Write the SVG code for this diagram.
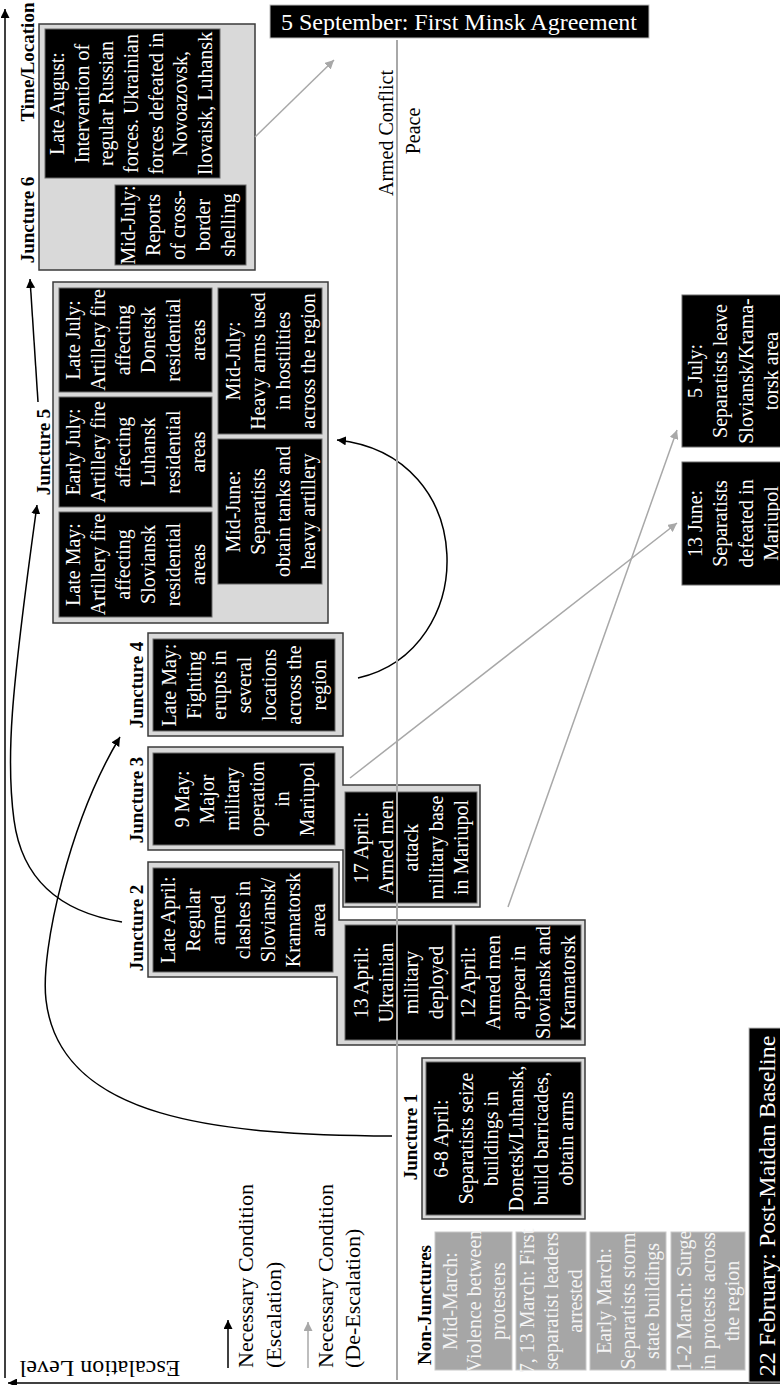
<svg xmlns="http://www.w3.org/2000/svg" width="780" height="1385" viewBox="0 0 780 1385">
<style>
.bg{fill:#fff}
.jt{fill:#d9d9d9;stroke:#3a3a3a;stroke-width:1.5}
.bx{fill:#000;stroke:#6a6a6a;stroke-width:1}
.nj{fill:#a6a6a6;stroke:#c8c8c8;stroke-width:1}
.t{font-family:"Liberation Serif",serif;font-size:20px;fill:#fff;text-anchor:middle;dominant-baseline:central}
.tn{font-family:"Liberation Serif",serif;font-size:20px;fill:#f4f4f4;text-anchor:middle;dominant-baseline:central}
.lbl{font-family:"Liberation Serif",serif;font-size:19px;font-weight:bold;fill:#000;text-anchor:middle;dominant-baseline:central}
.plain{font-family:"Liberation Serif",serif;font-size:20px;fill:#000;text-anchor:middle;dominant-baseline:central}
.big{font-family:"Liberation Serif",serif;font-size:24px;fill:#fff;text-anchor:middle;dominant-baseline:central}
.leg{font-family:"Liberation Serif",serif;font-size:22px;fill:#000;text-anchor:start;dominant-baseline:central}
.ax{stroke:#000;stroke-width:1.5;fill:none}
.esc{stroke:#000;stroke-width:1.5;fill:none}
.des{stroke:#a8a8a8;stroke-width:1.5;fill:none}
</style>
<defs>
<marker id="ab" viewBox="0 0 10 10" refX="10" refY="5" markerWidth="9" markerHeight="9" markerUnits="userSpaceOnUse" orient="auto"><path d="M0,0 L10,5 L0,10 z" fill="#000"/></marker>
<marker id="ag" viewBox="0 0 10 10" refX="10" refY="5" markerWidth="9" markerHeight="9" markerUnits="userSpaceOnUse" orient="auto"><path d="M0,0 L10,5 L0,10 z" fill="#a8a8a8"/></marker>
</defs>
<rect class="bg" x="0" y="0" width="780" height="1385"/>

<g id="axes">
<line class="ax" x1="5" y1="1378" x2="5" y2="9" marker-end="url(#ab)"/>
<line class="ax" x1="780" y1="1383" x2="8" y2="1383" marker-end="url(#ab)"/>
<text class="lbl" font-size="20" transform="translate(27,62) rotate(-90)">Time/Location</text>
<text class="plain" style="font-size:24px" transform="translate(100,1369) rotate(180)">Escalation Level</text>
</g>

<g id="legend">
<line class="esc" x1="228" y1="1368" x2="228" y2="1320" marker-end="url(#ab)"/>
<text class="leg" transform="translate(245,1368) rotate(-90)"><tspan x="0" y="0">Necessary Condition</tspan><tspan x="0" y="28">(Escalation)</tspan></text>
<line class="des" x1="308" y1="1368" x2="308" y2="1322" marker-end="url(#ag)"/>
<text class="leg" transform="translate(325,1368) rotate(-90)"><tspan x="0" y="0">Necessary Condition</tspan><tspan x="0" y="27">(De-Escalation)</tspan></text>
</g>

<g id="minsk">
<rect x="270" y="5" width="379" height="33" fill="#000" stroke="#bbb" stroke-width="1"/>
<text class="big" x="459" y="22">5 September: First Minsk Agreement</text>
</g>

<g id="baseline">
<rect x="749" y="1028" width="40" height="354" fill="#000" stroke="#bbb" stroke-width="1"/>
<text class="big" transform="translate(767,1206) rotate(-90)">22 February: Post-Maidan Baseline</text>
</g>

<g id="threshold-labels">
<text class="plain" transform="translate(386,133) rotate(-90)">Armed Conflict</text>
<text class="plain" transform="translate(413,131) rotate(-90)">Peace</text>
</g>

<g id="juncture6">
<rect class="jt" x="39" y="24" width="216" height="246"/>
<rect class="bx" x="45" y="29" width="175" height="149"/>
<text class="t" transform="translate(131,103.5) rotate(-90)"><tspan x="0" y="-74">Late August:</tspan><tspan x="0" y="-49.3">Intervention of</tspan><tspan x="0" y="-24.7">regular Russian</tspan><tspan x="0" y="0">forces. Ukrainian</tspan><tspan x="0" y="24.7">forces defeated in</tspan><tspan x="0" y="49.3">Novoazovsk,</tspan><tspan x="0" y="74">Ilovaisk, Luhansk</tspan></text>
<rect class="bx" x="115" y="185" width="131" height="80"/>
<text class="t" transform="translate(178,225) rotate(-90)"><tspan x="0" y="-50">Mid-July:</tspan><tspan x="0" y="-25">Reports</tspan><tspan x="0" y="0">of cross-</tspan><tspan x="0" y="25">border</tspan><tspan x="0" y="50">shelling</tspan></text>
<text class="lbl" transform="translate(27,220) rotate(-90)">Juncture 6</text>
</g>

<g id="juncture5">
<rect class="jt" x="53" y="282" width="275" height="341"/>
<rect class="bx" x="59" y="288" width="153" height="104"/>
<text class="t" transform="translate(135.5,340) rotate(-90)"><tspan x="0" y="-62.5">Late July:</tspan><tspan x="0" y="-37.5">Artillery fire</tspan><tspan x="0" y="-12.5">affecting</tspan><tspan x="0" y="12.5">Donetsk</tspan><tspan x="0" y="37.5">residential</tspan><tspan x="0" y="62.5">areas</tspan></text>
<rect class="bx" x="218" y="288" width="104" height="146"/>
<text class="t" transform="translate(270,361) rotate(-90)"><tspan x="0" y="-37.5">Mid-July:</tspan><tspan x="0" y="-12.5">Heavy arms used</tspan><tspan x="0" y="12.5">in hostilities</tspan><tspan x="0" y="37.5">across the region</tspan></text>
<rect class="bx" x="59" y="397" width="153" height="110"/>
<text class="t" transform="translate(135.5,452) rotate(-90)"><tspan x="0" y="-62.5">Early July:</tspan><tspan x="0" y="-37.5">Artillery fire</tspan><tspan x="0" y="-12.5">affecting</tspan><tspan x="0" y="12.5">Luhansk</tspan><tspan x="0" y="37.5">residential</tspan><tspan x="0" y="62.5">areas</tspan></text>
<rect class="bx" x="218" y="439" width="104" height="145"/>
<text class="t" transform="translate(270,511.5) rotate(-90)"><tspan x="0" y="-37.5">Mid-June:</tspan><tspan x="0" y="-12.5">Separatists</tspan><tspan x="0" y="12.5">obtain tanks and</tspan><tspan x="0" y="37.5">heavy artillery</tspan></text>
<rect class="bx" x="59" y="512" width="153" height="105"/>
<text class="t" transform="translate(135.5,564.5) rotate(-90)"><tspan x="0" y="-62.5">Late May:</tspan><tspan x="0" y="-37.5">Artillery fire</tspan><tspan x="0" y="-12.5">affecting</tspan><tspan x="0" y="12.5">Sloviansk</tspan><tspan x="0" y="37.5">residential</tspan><tspan x="0" y="62.5">areas</tspan></text>
<text class="lbl" transform="translate(43,452) rotate(-90)">Juncture 5</text>
</g>

<g id="juncture4">
<rect class="jt" x="148" y="633" width="195" height="103"/>
<rect class="bx" x="153" y="639" width="182" height="92"/>
<text class="t" transform="translate(244,685) rotate(-90)"><tspan x="0" y="-75">Late May:</tspan><tspan x="0" y="-50">Fighting</tspan><tspan x="0" y="-25">erupts in</tspan><tspan x="0" y="0">several</tspan><tspan x="0" y="25">locations</tspan><tspan x="0" y="50">across the</tspan><tspan x="0" y="75">region</tspan></text>
<text class="lbl" transform="translate(136,685) rotate(-90)">Juncture 4</text>
</g>

<g id="juncture3">
<path class="jt" d="M148,747 H343 V785 H480 V907 H343 V850 H148 Z"/>
<rect class="bx" x="153" y="753" width="182" height="92"/>
<text class="t" transform="translate(244,799) rotate(-90)"><tspan x="0" y="-62.5">9 May:</tspan><tspan x="0" y="-37.5">Major</tspan><tspan x="0" y="-12.5">military</tspan><tspan x="0" y="12.5">operation</tspan><tspan x="0" y="37.5">in</tspan><tspan x="0" y="62.5">Mariupol</tspan></text>
<rect class="bx" x="345" y="792" width="132" height="111"/>
<text class="t" transform="translate(411,847.5) rotate(-90)"><tspan x="0" y="-50">17 April:</tspan><tspan x="0" y="-25">Armed men</tspan><tspan x="0" y="0">attack</tspan><tspan x="0" y="25">military base</tspan><tspan x="0" y="50">in Mariupol</tspan></text>
<text class="lbl" transform="translate(136,800) rotate(-90)">Juncture 3</text>
</g>

<g id="juncture2">
<path class="jt" d="M148,862 H339 V920 H585 V1045 H337 V977 H148 Z"/>
<rect class="bx" x="153" y="868" width="180" height="104"/>
<text class="t" transform="translate(243,920) rotate(-90)"><tspan x="0" y="-75">Late April:</tspan><tspan x="0" y="-50">Regular</tspan><tspan x="0" y="-25">armed</tspan><tspan x="0" y="0">clashes in</tspan><tspan x="0" y="25">Sloviansk/</tspan><tspan x="0" y="50">Kramatorsk</tspan><tspan x="0" y="75">area</tspan></text>
<rect class="bx" x="345" y="925" width="107" height="115"/>
<text class="t" transform="translate(398.5,982.5) rotate(-90)"><tspan x="0" y="-37.5">13 April:</tspan><tspan x="0" y="-12.5">Ukrainian</tspan><tspan x="0" y="12.5">military</tspan><tspan x="0" y="37.5">deployed</tspan></text>
<rect class="bx" x="455" y="925" width="126" height="115"/>
<text class="t" transform="translate(518,982.5) rotate(-90)"><tspan x="0" y="-50">12 April:</tspan><tspan x="0" y="-25">Armed men</tspan><tspan x="0" y="0">appear in</tspan><tspan x="0" y="25">Sloviansk and</tspan><tspan x="0" y="50">Kramatorsk</tspan></text>
<text class="lbl" transform="translate(136,928) rotate(-90)">Juncture 2</text>
</g>

<g id="juncture1">
<rect class="jt" x="422" y="1058" width="163" height="161"/>
<rect class="bx" x="426" y="1062" width="155" height="153"/>
<text class="t" transform="translate(503.5,1138.5) rotate(-90)"><tspan x="0" y="-62.5">6-8 April:</tspan><tspan x="0" y="-37.5">Separatists seize</tspan><tspan x="0" y="-12.5">buildings in</tspan><tspan x="0" y="12.5">Donetsk/Luhansk,</tspan><tspan x="0" y="37.5">build barricades,</tspan><tspan x="0" y="62.5">obtain arms</tspan></text>
<text class="lbl" transform="translate(410,1137) rotate(-90)">Juncture 1</text>
</g>

<g id="non-junctures">
<text class="lbl" transform="translate(424,1305) rotate(-90)">Non-Junctures</text>
<rect class="nj" x="435" y="1232" width="77" height="138"/>
<text class="tn" transform="translate(473.5,1301) rotate(-90)"><tspan x="0" y="-24">Mid-March:</tspan><tspan x="0" y="0">Violence between</tspan><tspan x="0" y="24">protesters</tspan></text>
<rect class="nj" x="516" y="1232" width="70" height="138"/>
<text class="tn" transform="translate(551,1301) rotate(-90)"><tspan x="0" y="-24">7, 13 March: First</tspan><tspan x="0" y="0">separatist leaders</tspan><tspan x="0" y="24">arrested</tspan></text>
<rect class="nj" x="590" y="1232" width="76" height="138"/>
<text class="tn" transform="translate(628,1301) rotate(-90)"><tspan x="0" y="-24">Early March:</tspan><tspan x="0" y="0">Separatists storm</tspan><tspan x="0" y="24">state buildings</tspan></text>
<rect class="nj" x="671" y="1232" width="74" height="138"/>
<text class="tn" transform="translate(708,1301) rotate(-90)"><tspan x="0" y="-24">1-2 March: Surge</tspan><tspan x="0" y="0">in protests across</tspan><tspan x="0" y="24">the region</tspan></text>
</g>

<g id="july5">
<rect class="bx" x="682" y="295" width="110" height="152"/>
<text class="t" transform="translate(695,371) rotate(-90)"><tspan x="0" y="0">5 July:</tspan><tspan x="0" y="25.3">Separatists leave</tspan><tspan x="0" y="50.6">Sloviansk/Krama-</tspan><tspan x="0" y="76">torsk area</tspan></text>
</g>

<g id="june13">
<rect class="bx" x="682" y="462" width="110" height="123"/>
<text class="t" transform="translate(695,523.5) rotate(-90)"><tspan x="0" y="0">13 June:</tspan><tspan x="0" y="25.3">Separatists</tspan><tspan x="0" y="50.6">defeated in</tspan><tspan x="0" y="76">Mariupol</tspan></text>
</g>

<g id="connectors">
<line class="des" x1="255" y1="137" x2="334" y2="60" marker-end="url(#ag)"/>
<line class="des" x1="350" y1="778" x2="677" y2="523" marker-end="url(#ag)"/>
<line class="des" x1="508" y1="907" x2="677" y2="430" marker-end="url(#ag)"/>
<path class="esc" d="M358,678 C480,650 480,455 337,440" marker-end="url(#ab)"/>
<line class="esc" x1="38" y1="402" x2="30" y2="279" marker-end="url(#ab)"/>
<path class="esc" d="M122,922 C60,912 22,880 14,820 C6,760 10,700 37,505" marker-end="url(#ab)"/>
<path class="esc" d="M392,1136 C220,1135 60,1120 46,1000 C40,950 70,820 120,737" marker-end="url(#ab)"/>
</g>

<g id="threshold">
<line x1="397" y1="40" x2="397" y2="1380" stroke="#a8a8a8" stroke-width="2"/>
</g>
</svg>
